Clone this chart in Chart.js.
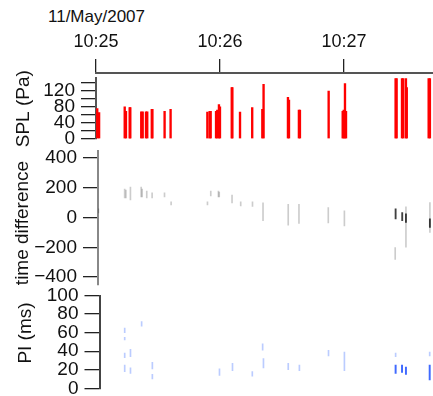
<!DOCTYPE html>
<html><head><meta charset="utf-8">
<script src="https://cdn.jsdelivr.net/npm/chart.js@4.4.1/dist/chart.umd.min.js"></script>
<style>
html,body{margin:0;padding:0;background:#fff;width:433px;height:396px;overflow:hidden;position:relative;font-family:"Liberation Sans",Arial,sans-serif}
canvas{position:absolute;left:0}
#date{position:absolute;left:48px;top:7px;font-size:17px;color:#111;line-height:20px;white-space:nowrap}
</style></head><body>
<div id="date"></div>
<canvas id="cAxis" style="top:0" width="433" height="80"></canvas>
<canvas id="cSpl" style="top:60px" width="433" height="100"></canvas>
<canvas id="cTd" style="top:135px" width="433" height="165"></canvas>
<canvas id="cPi" style="top:280px" width="433" height="125"></canvas>
<script>
// ---- data (time in seconds after 10:25:00) ----
const dateLabel = '11/May/2007';
const xTickSeconds = [0, 60, 120];
const xTickLabels = ['10:25', '10:26', '10:27'];

const splTimes = [0.6,1.5,13.9,14.5,16.3,16.6,21.9,22.6,24.2,24.8,27.0,27.3,33.2,36.1,53.9,55.0,55.5,58.1,58.7,59.5,60.0,65.7,66.0,69.7,75.6,80.5,81.1,92.9,93.4,98.2,98.7,112.6,119.4,119.9,120.5,121.0,145.0,145.5,148.1,148.7,150.0,150.4,161.0,161.6];
const splValues = [75,65,79,68,77,77,67,67,67,67,73,73,68,73,66,68,68,68,71,85,79,127,127,66,77,73,135,103,96,71,71,118,68,71,137,68,150,150,150,150,150,127,150,150];
const splTicks = [0,20,40,60,80,100,120,140];
const splTickLabels = [0,40,80,120];

const tdTimes = [1.1,13.8,14.4,16.6,21.8,22.3,24.5,27.1,33.1,36.3,53.9,55.5,59.2,59.6,65.8,70.0,75.7,80.8,93.0,98.2,112.4,120.2,144.8,150.0,161.6];
const tdLow   = [31,131,131,118,138,138,131,131,138,85,85,145,138,138,98,78,75,-22,-51,-40,-37,-57,-282,-200,-100];
const tdHigh  = [58,191,185,205,205,191,178,165,165,105,105,178,178,171,151,105,105,98,89,89,67,45,-202,71,100];
const tdDarkTimes = [145.0,148.2,150.0,161.6];
const tdDarkLow   = [-9,-22,-33,-67];
const tdDarkHigh  = [58,33,25,-9];
const tdTicks = [-400,-200,0,200,400];

const piTimes = [13.8,13.8,13.8,13.8,16.6,16.6,22.0,27.2,27.2,59.7,66.0,75.6,80.6,81.0,93.0,98.4,112.5,120.2,145.0,161.5];
const piLow   = [60,52,33,18,34,16,67,21,10,14,19,13,41,22,20,19,35,19,34,35];
const piHigh  = [65,55,38,25,42,22,72,28,15,21,27,18,48,32,27,25,41,39,38,39];
const piDarkTimes = [145.0,148.1,150.0,161.5];
const piDarkLow   = [16,17,15,9];
const piDarkHigh  = [25,25,23,25];
const piTicks = [0,20,40,60,80,100];

document.getElementById('date').textContent = dateLabel;

const FONT = '"Liberation Sans", Arial, sans-serif';
Chart.defaults.font.family = FONT;
Chart.defaults.color = '#111';
const X_MAX = 163.1;

const yTitle = {
  id: 'yTitle',
  afterDraw(chart, args, o) {
    const ctx = chart.ctx;
    ctx.save();
    ctx.translate(o.x, o.y);
    ctx.rotate(-Math.PI / 2);
    ctx.font = o.size + 'px ' + FONT;
    ctx.fillStyle = '#111';
    ctx.textAlign = 'center';
    ctx.textBaseline = 'middle';
    ctx.fillText(o.text, 0, 0);
    ctx.restore();
  }
};

function fmt(v) { return v < 0 ? '\u2212' + Math.abs(v) : String(v); }

function yScale(o) {
  return {
    position: 'left', min: o.min, max: o.max,
    afterFit: s => { s.width = o.width; },
    afterBuildTicks: s => { s.ticks = o.ticks.map(v => ({ value: v })); },
    ticks: {
      autoSkip: false, maxRotation: 0, padding: 6, color: '#111',
      font: { size: 19, lineHeight: 1.0 },
      callback: v => (o.labels ? (o.labels.includes(v) ? fmt(v) : '') : fmt(v))
    },
    grid: { drawOnChartArea: false, drawTicks: true, tickLength: 15, color: '#222', lineWidth: 1.3 },
    border: { display: true, color: o.borderColor, width: 2 }
  };
}

function xHidden(min) {
  return { type: 'linear', min: min, max: X_MAX, display: false, offset: false };
}

function bars(times, lo, hi, color, thick) {
  return {
    type: 'bar',
    data: times.map((t, i) => ({ x: t, y: hi ? [lo[i], hi[i]] : lo[i] })),
    backgroundColor: color, borderWidth: 0, barThickness: thick, grouped: false
  };
}

const common = { responsive: false, animation: false, events: [], plugins: { legend: { display: false }, tooltip: { enabled: false } } };

// top time axis
new Chart(document.getElementById('cAxis'), {
  type: 'scatter',
  data: { datasets: [{ data: [] }] },
  options: Object.assign({}, common, {
    layout: { padding: { left: 96, right: 0, top: 0, bottom: 0 } },
    scales: {
      x: {
        type: 'linear', position: 'top', min: 0, max: X_MAX,
        afterFit: s => { s.height = 73; },
        afterBuildTicks: s => { s.ticks = xTickSeconds.map(v => ({ value: v })); },
        ticks: { autoSkip: false, maxRotation: 0, padding: 6, color: '#111', font: { size: 18 },
          callback: v => xTickLabels[xTickSeconds.indexOf(v)] },
        grid: { drawOnChartArea: false, tickLength: 14, color: '#222', lineWidth: 1.3 },
        border: { display: true, color: '#555', width: 2 }
      },
      y: { display: false, min: 0, max: 1 }
    }
  })
});

// SPL
new Chart(document.getElementById('cSpl'), {
  type: 'bar',
  data: { datasets: [bars(splTimes, splValues, null, '#ff0000', 1.7)] },
  options: Object.assign({}, common, {
    layout: { padding: { left: 0, right: 0, top: 18.3, bottom: 21.3 } },
    plugins: Object.assign({}, common.plugins, { yTitle: { text: 'SPL (Pa)', x: 24, y: 48.7, size: 19 } }),
    scales: {
      x: xHidden(0),
      y: yScale({ min: 0, max: 150, width: 96, ticks: splTicks, labels: splTickLabels, borderColor: '#555' })
    }
  }),
  plugins: [yTitle]
});

// time difference
new Chart(document.getElementById('cTd'), {
  type: 'bar',
  data: { datasets: [
    bars(tdTimes, tdLow, tdHigh, 'rgba(0,0,0,0.2)', 1),
    bars(tdDarkTimes, tdDarkLow, tdDarkHigh, 'rgba(0,0,0,0.75)', 1.2)
  ] },
  options: Object.assign({}, common, {
    layout: { padding: { left: 0, right: 0, top: 13.3, bottom: 15 } },
    plugins: Object.assign({}, common.plugins, { yTitle: { text: 'time difference', x: 23, y: 88, size: 19 } }),
    scales: {
      x: xHidden(0.9),
      y: yScale({ min: -450, max: 450, width: 98, ticks: tdTicks, borderColor: '#888' })
    }
  }),
  plugins: [yTitle]
});

// PI
new Chart(document.getElementById('cPi'), {
  type: 'bar',
  data: { datasets: [
    bars(piTimes, piLow, piHigh, 'rgba(60,110,255,0.35)', 1),
    bars(piDarkTimes, piDarkLow, piDarkHigh, 'rgba(30,80,255,0.85)', 1.3)
  ] },
  options: Object.assign({}, common, {
    layout: { padding: { left: 0, right: 0, top: 14, bottom: 16.7 } },
    plugins: Object.assign({}, common.plugins, { yTitle: { text: 'PI (ms)', x: 26, y: 53, size: 19 } }),
    scales: {
      x: xHidden(1.6),
      y: yScale({ min: 0, max: 100, width: 99.5, ticks: piTicks, borderColor: '#444' })
    }
  }),
  plugins: [yTitle]
});
</script>
</body></html>
